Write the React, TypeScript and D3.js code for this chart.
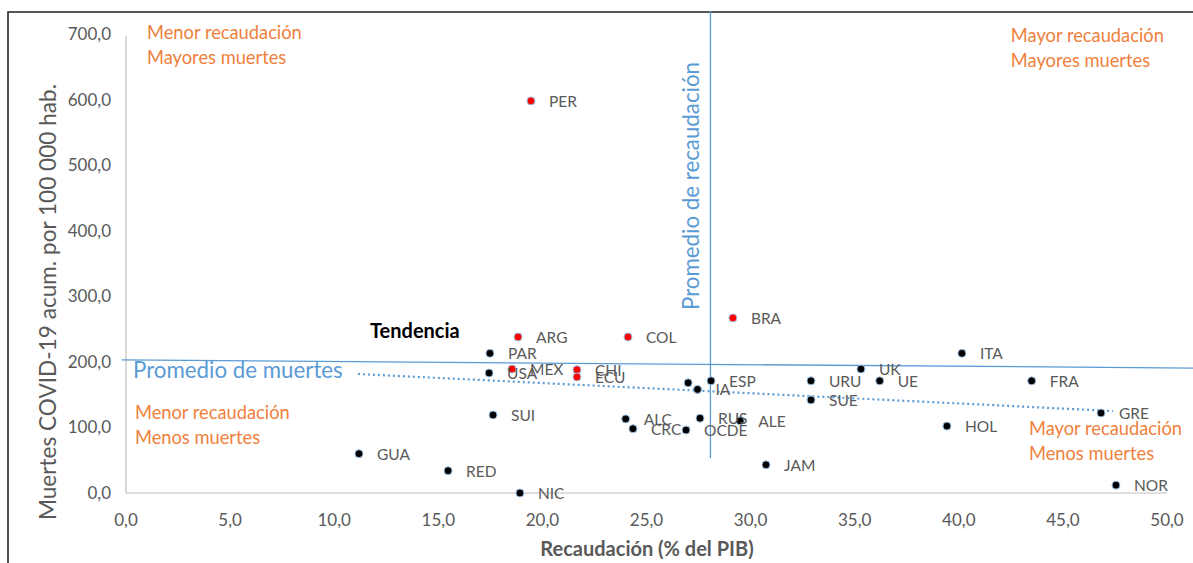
import React from "react";
import * as d3 from "d3";

const paises = ["PER","ARG","COL","BRA","PAR","USA","MEX","CHI","ECU","CAN","IA","ESP","SUI","ALC","CRC","OCDE","RUS","ALE","URU","SUE","UK","UE","ITA","FRA","GRE","HOL","NOR","JAM","GUA","RED","NIC"];
const recaudacion = [19.45,18.83,24.11,29.15,17.48,17.44,18.54,21.66,21.66,27.0,27.45,28.1,17.63,24.0,24.35,26.9,27.57,29.5,32.9,32.9,35.3,36.2,40.15,43.5,46.83,39.43,47.55,30.74,11.19,15.47,18.92];
const muertes = [598,238,238,267,213,183,189,188,177,168,158,171,119,113,98,96,114,110,171,142,189,171,213,171,122,102,12,43,60,34,0];
const etiquetas = ["PER","ARG","COL","BRA","PAR","USA","MEX","CHI","ECU","","IA","ESP","SUI","ALC","CRC","OCDE","RUS","ALE","URU","SUE","UK","UE","ITA","FRA","GRE","HOL","NOR","JAM","GUA","RED","NIC"];
const destacados = ["PER","ARG","COL","BRA","MEX","CHI","ECU"];

const xTicks = [0,5,10,15,20,25,30,35,40,45,50];
const yTicks = [0,100,200,300,400,500,600,700];

const promedioMuertes = [[-0.2, 203], [51.5, 190.5]];
const promedioRecaudacion = [[28.07, 53], [28.07, 735]];
const tendencia = [[11.14, 181.5], [47.4, 125]];

const cuadrantes = [
  { x: 1.01, y: 692.4, l1: "Menor recaudación", l2: "Mayores muertes" },
  { x: 42.5, y: 687.8, l1: "Mayor recaudación", l2: "Mayores muertes" },
  { x: 0.43, y: 112.9, l1: "Menor recaudación", l2: "Menos muertes" },
  { x: 43.37, y: 88.5, l1: "Mayor recaudación", l2: "Menos muertes" },
];

const W = 1193, H = 563;
const FONT = "Lato, 'Open Sans', sans-serif";
const GRAY = "#595959";
const BLUE = "#5B9BD5";
const ORANGE = "#F07F3C";

export default function App() {
  const x = d3.scaleLinear().domain([0, 50]).range([126, 1167]);
  const y = d3.scaleLinear().domain([0, 700]).range([493, 34]);
  const fmt = (v: number) => d3.format(".1f")(v).replace(".", ",");
  const line = d3.line<number[]>().x(d => x(d[0])).y(d => y(d[1]));
  const pts = paises.map((p, i) => ({ p, xv: recaudacion[i], yv: muertes[i], lab: etiquetas[i] }));

  return (
    <svg width={W} height={H} style={{ position: "absolute", left: 0, top: 0, background: "#fff" }} fontFamily={FONT}>
      <rect x={0} y={0} width={W} height={H} fill="#fff" />
      <path d={`M8,${H} V12 H${W}`} fill="none" stroke="#222" strokeWidth={1.6} />
      {/* axes */}
      <line x1={x(0)} x2={x(0)} y1={y(700) + 2} y2={y(0)} stroke="#BFBFBF" strokeWidth={1.2} />
      <line x1={x(0)} x2={x(50)} y1={y(0)} y2={y(0)} stroke="#BFBFBF" strokeWidth={1.2} />
      {xTicks.map(t => (
        <text key={"x" + t} x={x(t)} y={y(0) + 33} textAnchor="middle" fontSize={17} fill={GRAY}>{fmt(t)}</text>
      ))}
      {yTicks.map(t => (
        <text key={"y" + t} x={x(0) - 15} y={y(t) + 6} textAnchor="end" fontSize={17} fill={GRAY}>{fmt(t)}</text>
      ))}
      <text x={647} y={556} textAnchor="middle" fontSize={20} fontWeight="bold" fill={GRAY}>Recaudación (% del PIB)</text>
      <text transform={`translate(56,302) rotate(-90)`} textAnchor="middle" fontSize={22.6} fill={GRAY}>Muertes COVID-19  acum. por 100 000 hab.</text>

      {/* reference lines */}
      <path d={line(promedioMuertes) || ""} stroke={BLUE} strokeWidth={1.3} fill="none" />
      <path d={line(promedioRecaudacion) || ""} stroke={BLUE} strokeWidth={1.3} fill="none" />
      <path d={line(tendencia) || ""} stroke={BLUE} strokeWidth={2.2} strokeDasharray="2 3" fill="none" />

      <text x={133} y={378} fontSize={22.3} fill={BLUE}>Promedio de muertes</text>
      <text transform={`translate(699,186) rotate(-90)`} textAnchor="middle" fontSize={22.3} fill={BLUE}>Promedio de recaudación</text>
      <text x={370} y={338} fontSize={20} fontWeight="bold" fill="#000">Tendencia</text>

      {cuadrantes.map((c, i) => (
        <g key={"q" + i}>
          <text x={x(c.x)} y={y(c.y)} fontSize={18.3} fill={ORANGE}>{c.l1}</text>
          <text x={x(c.x)} y={y(c.y) + 25} fontSize={18.3} fill={ORANGE}>{c.l2}</text>
        </g>
      ))}

      {pts.map(d => (
        <circle key={"c" + d.p} cx={x(d.xv)} cy={y(d.yv)} r={4} fill={destacados.includes(d.p) ? "#FF0000" : "#000"} stroke="#9DC3E6" strokeWidth={1} />
      ))}
      {pts.map(d => (
        <text key={"t" + d.p} x={x(d.xv) + 18} y={y(d.yv) + 6} fontSize={15.5} fill={GRAY}>{d.lab}</text>
      ))}
    </svg>
  );
}
